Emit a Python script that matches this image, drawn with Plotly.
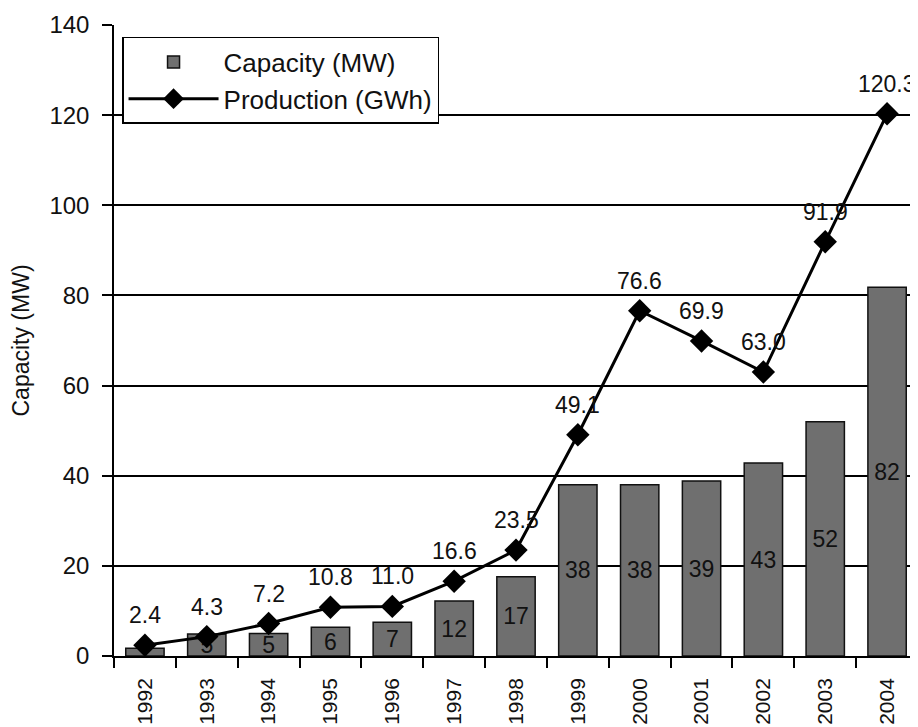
import plotly.graph_objects as go

years = ["1992", "1993", "1994", "1995", "1996", "1997", "1998",
         "1999", "2000", "2001", "2002", "2003", "2004"]
capacity = [1.7, 4.9, 5.0, 6.4, 7.5, 12.2, 17.6, 38.0, 38.0, 38.8, 42.8, 52.0, 81.8]
capacity_labels = ["1", "5", "5", "6", "7", "12", "17", "38", "38", "39", "43", "52", "82"]
production = [2.4, 4.3, 7.2, 10.8, 11.0, 16.6, 23.5, 49.1, 76.6, 69.9, 63.0, 91.9, 120.3]
production_labels = ["2.4", "4.3", "7.2", "10.8", "11.0", "16.6", "23.5",
                     "49.1", "76.6", "69.9", "63.0", "91.9", "120.3"]
y_ticks = [0, 20, 40, 60, 80, 100, 120, 140]

FONT = "Liberation Sans, Arial, sans-serif"
TXT = "#111111"

fig = go.Figure()
fig.add_trace(go.Bar(
    x=years, y=capacity, name="Capacity (MW)",
    marker=dict(color="#6f6f6f", line=dict(color="#111111", width=1.5)),
    text=capacity_labels, textposition="inside", insidetextanchor="middle",
    constraintext="none", textangle=0,
    textfont=dict(family=FONT, size=23, color=TXT),
))
fig.add_trace(go.Scatter(
    x=years, y=production, name="Production (GWh)", mode="lines+markers",
    line=dict(color="black", width=3),
    marker=dict(symbol="diamond", size=18, color="black"),
))
for i, (y, t) in enumerate(zip(production, production_labels)):
    fig.add_annotation(x=i, y=y, xref="x", yref="y", text=t, showarrow=False,
                       yshift=30, font=dict(family=FONT, size=23, color=TXT))

fig.update_layout(
    width=910, height=719,
    margin=dict(l=106, r=0, t=17, b=71),
    plot_bgcolor="white", paper_bgcolor="white",
    bargap=0.38,
    showlegend=True,
    legend=dict(x=0.01, y=0.981, xanchor="left", yanchor="top",
                bgcolor="white", bordercolor="black", borderwidth=1.5,
                font=dict(family=FONT, size=26, color=TXT),
                itemwidth=90),
    font=dict(family=FONT, color=TXT),
)
fig.update_xaxes(
    type="category", range=[-0.5, 12.5], automargin=False,
    showline=True, linecolor="black", linewidth=1.5,
    ticks="outside", tickson="boundaries", ticklen=10, tickcolor="black", tickwidth=1.5,
    tickangle=-90, tickfont=dict(family=FONT, size=21, color=TXT),
    ticklabelstandoff=12,
)
fig.update_yaxes(
    range=[0, 140], tickvals=y_ticks, automargin=False,
    showline=True, linecolor="black", linewidth=1.5,
    showgrid=True, gridcolor="black", gridwidth=1.5,
    ticks="outside", ticklen=10, tickcolor="black", tickwidth=1.5,
    tickfont=dict(family=FONT, size=24, color=TXT),
    ticklabelstandoff=8,
    title=dict(text="Capacity (MW)", font=dict(family=FONT, size=23, color=TXT),
               standoff=26),
    zeroline=False,
)
fig.write_html("out.html")
